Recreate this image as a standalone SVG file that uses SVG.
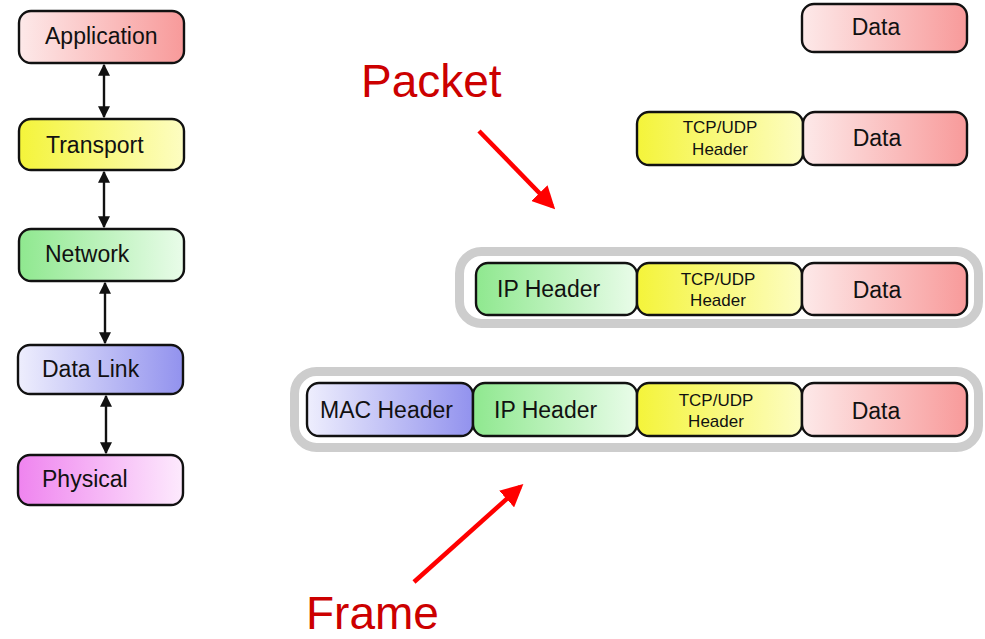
<svg xmlns="http://www.w3.org/2000/svg" width="985" height="639" viewBox="0 0 985 639">
  <defs>
    <linearGradient id="gPink" x1="0" y1="0" x2="1" y2="0">
      <stop offset="0" stop-color="#fde9e9"/>
      <stop offset="1" stop-color="#f89a9a"/>
    </linearGradient>
    <linearGradient id="gYellow" x1="0" y1="0" x2="1" y2="0">
      <stop offset="0" stop-color="#f4f43a"/>
      <stop offset="1" stop-color="#fdfdc2"/>
    </linearGradient>
    <linearGradient id="gGreen" x1="0" y1="0" x2="1" y2="0">
      <stop offset="0" stop-color="#8fe88f"/>
      <stop offset="1" stop-color="#e9fce9"/>
    </linearGradient>
    <linearGradient id="gBlue" x1="0" y1="0" x2="1" y2="0">
      <stop offset="0" stop-color="#eeeefd"/>
      <stop offset="1" stop-color="#9292ee"/>
    </linearGradient>
    <linearGradient id="gMagenta" x1="0" y1="0" x2="1" y2="0">
      <stop offset="0" stop-color="#ef84ef"/>
      <stop offset="1" stop-color="#fdeafd"/>
    </linearGradient>
    <marker id="ah" viewBox="0 0 10 10" refX="9" refY="5" markerWidth="5" markerHeight="5.5" orient="auto-start-reverse">
      <path d="M0,0 L10,5 L0,10 z" fill="#111"/>
    </marker>
    <marker id="rh" viewBox="0 0 10 10" refX="8" refY="5" markerWidth="5" markerHeight="5" orient="auto">
      <path d="M0,0 L10,5 L0,10 z" fill="#ff0000"/>
    </marker>
  </defs>
  <style>
    .box { stroke: #111; stroke-width: 2.4; }
    .lbl { font-family: "Liberation Sans", Arial, sans-serif; fill: #111; }
    .big { font-size: 23px; }
    .sm { font-size: 17px; text-anchor: middle; }
    .ring { fill: none; stroke: #cdcdcd; stroke-width: 9; }
    .link { stroke: #111; stroke-width: 2.4; fill: none; }
    .callout { font-family: "Liberation Sans", Arial, sans-serif; font-size: 46px; fill: #cc0000; }
    .red { stroke: #ff0000; stroke-width: 4.5; fill: none; }
  </style>

  <rect width="985" height="639" fill="#ffffff"/>

  <!-- protocol stack -->
  <g id="application">
    <rect class="box" x="19" y="11" width="165" height="52" rx="12" fill="url(#gPink)"/>
    <text class="lbl big" x="45" y="44">Application</text>
  </g>
  <g id="transport">
    <rect class="box" x="19" y="119" width="165" height="51" rx="12" fill="url(#gYellow)"/>
    <text class="lbl big" x="46" y="153">Transport</text>
  </g>
  <g id="network">
    <rect class="box" x="19" y="229" width="165" height="52" rx="12" fill="url(#gGreen)"/>
    <text class="lbl big" x="45" y="262">Network</text>
  </g>
  <g id="datalink">
    <rect class="box" x="18" y="345" width="165" height="49" rx="12" fill="url(#gBlue)"/>
    <text class="lbl big" x="42" y="377">Data Link</text>
  </g>
  <g id="physical">
    <rect class="box" x="18" y="455" width="165" height="50" rx="12" fill="url(#gMagenta)"/>
    <text class="lbl big" x="42" y="487">Physical</text>
  </g>

  <g id="connectors">
    <line class="link" x1="104" y1="65" x2="104" y2="117" marker-start="url(#ah)" marker-end="url(#ah)"/>
    <line class="link" x1="104" y1="172" x2="104" y2="227" marker-start="url(#ah)" marker-end="url(#ah)"/>
    <line class="link" x1="105" y1="283" x2="105" y2="343" marker-start="url(#ah)" marker-end="url(#ah)"/>
    <line class="link" x1="106" y1="396" x2="106" y2="453" marker-start="url(#ah)" marker-end="url(#ah)"/>
  </g>

  <!-- application data -->
  <g id="row-data">
    <rect class="box" x="802" y="4" width="165" height="48" rx="12" fill="url(#gPink)"/>
    <text class="lbl" font-size="23" text-anchor="middle" x="876" y="35">Data</text>
  </g>

  <!-- segment -->
  <g id="row-segment">
    <rect class="box" x="637" y="112" width="166" height="53" rx="12" fill="url(#gYellow)"/>
    <text class="lbl sm" x="720" y="133">TCP/UDP</text>
    <text class="lbl sm" x="720" y="155">Header</text>
    <rect class="box" x="803" y="112" width="164" height="53" rx="12" fill="url(#gPink)"/>
    <text class="lbl" font-size="23" text-anchor="middle" x="877" y="146">Data</text>
  </g>

  <!-- packet -->
  <g id="row-packet">
    <rect class="ring" x="459.5" y="251.5" width="519" height="72" rx="22"/>
    <rect class="box" x="476" y="263" width="161" height="52" rx="12" fill="url(#gGreen)"/>
    <text class="lbl" font-size="23" x="497" y="297">IP Header</text>
    <rect class="box" x="637" y="263" width="165" height="52" rx="12" fill="url(#gYellow)"/>
    <text class="lbl sm" x="718" y="285">TCP/UDP</text>
    <text class="lbl sm" x="718" y="306">Header</text>
    <rect class="box" x="802" y="263" width="165" height="52" rx="12" fill="url(#gPink)"/>
    <text class="lbl" font-size="23" text-anchor="middle" x="877" y="298">Data</text>
  </g>

  <!-- frame -->
  <g id="row-frame">
    <rect class="ring" x="294.5" y="371.5" width="684" height="76" rx="22"/>
    <rect class="box" x="307" y="383" width="166" height="53" rx="12" fill="url(#gBlue)"/>
    <text class="lbl" font-size="23" x="320" y="418">MAC Header</text>
    <rect class="box" x="473" y="383" width="164" height="53" rx="12" fill="url(#gGreen)"/>
    <text class="lbl" font-size="23" x="494" y="418">IP Header</text>
    <rect class="box" x="637" y="383" width="165" height="53" rx="12" fill="url(#gYellow)"/>
    <text class="lbl sm" x="716" y="406">TCP/UDP</text>
    <text class="lbl sm" x="716" y="427">Header</text>
    <rect class="box" x="802" y="383" width="165" height="53" rx="12" fill="url(#gPink)"/>
    <text class="lbl" font-size="23" text-anchor="middle" x="876" y="419">Data</text>
  </g>

  <!-- callouts -->
  <g id="packet-callout">
    <text class="callout" x="361" y="97">Packet</text>
    <line class="red" x1="479" y1="131" x2="552" y2="206" marker-end="url(#rh)"/>
  </g>
  <g id="frame-callout">
    <text class="callout" x="306" y="629">Frame</text>
    <line class="red" x1="414" y1="582" x2="520" y2="487" marker-end="url(#rh)"/>
  </g>
</svg>
